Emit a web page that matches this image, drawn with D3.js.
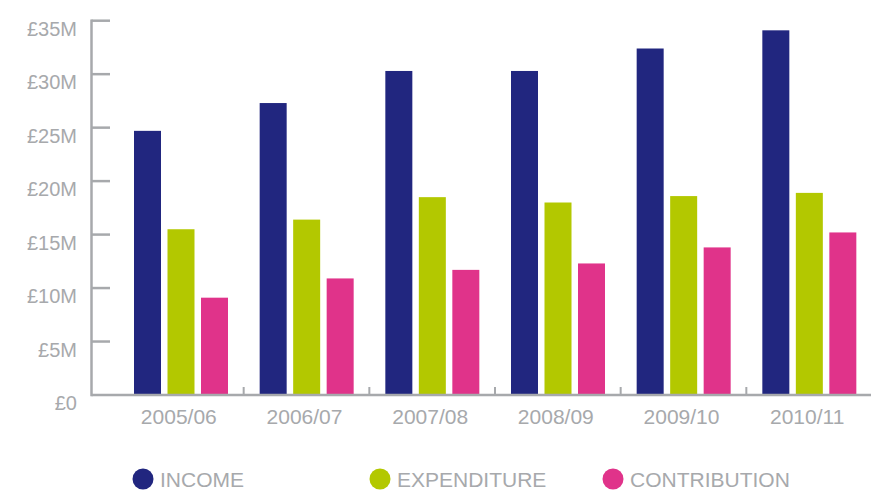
<!DOCTYPE html>
<html>
<head>
<meta charset="utf-8">
<script src="https://cdn.jsdelivr.net/npm/d3@7"></script>
<style>
  html, body { margin: 0; padding: 0; background: #fff; }
  svg { display: block; font-family: 'Liberation Sans', Arial, sans-serif; }
</style>
</head>
<body>
<div id="chart"></div>
<script>
/* values in £ millions */
const years = ["2005/06", "2006/07", "2007/08", "2008/09", "2009/10", "2010/11"];
const seriesNames = ["INCOME", "EXPENDITURE", "CONTRIBUTION"];
const income = [24.7, 27.3, 30.3, 30.3, 32.4, 34.1];
const expenditure = [15.5, 16.4, 18.5, 18.0, 18.6, 18.9];
const contribution = [9.1, 10.9, 11.7, 12.3, 13.8, 15.2];
const yTicks = [0, 5, 10, 15, 20, 25, 30, 35];

const colors = ["#21267f", "#b3c800", "#e0338a"];
const grey = "#a7a9ac";

const W = 871, H = 491;
const svg = d3.select("#chart").append("svg")
  .attr("width", W).attr("height", H);

const values = [income, expenditure, contribution];

const x = d3.scaleBand().domain(years).range([118, 872]).padding(0);
const xs = d3.scaleBand().domain(seriesNames).range([16, 110])
  .paddingInner(0.194).paddingOuter(0);
const y = d3.scaleLinear().domain([0, 35]).range([395, 20.7]);

/* ── Bars ── */
const groups = svg.selectAll("g.year")
  .data(years)
  .enter().append("g")
  .attr("class", "year")
  .attr("transform", d => `translate(${x(d)},0)`);

groups.selectAll("rect")
  .data((d, i) => seriesNames.map((s, j) => ({ s, v: values[j][i], j })))
  .enter().append("rect")
  .attr("x", d => xs(d.s))
  .attr("width", xs.bandwidth())
  .attr("y", d => y(d.v))
  .attr("height", d => y(0) - y(d.v))
  .attr("fill", d => colors[d.j]);

/* ── Y axis ── */
const yAxis = svg.append("g");
yAxis.append("line")
  .attr("x1", 91.5).attr("x2", 91.5)
  .attr("y1", y(35) - 1.2).attr("y2", y(0) + 1.2)
  .attr("stroke", grey).attr("stroke-width", 2.5);
yAxis.selectAll("line.tick")
  .data(yTicks.filter(d => d > 0))
  .enter().append("line")
  .attr("class", "tick")
  .attr("x1", 91.5).attr("x2", 110)
  .attr("y1", d => y(d)).attr("y2", d => y(d))
  .attr("stroke", grey).attr("stroke-width", 2.5);
yAxis.selectAll("text")
  .data(yTicks)
  .enter().append("text")
  .attr("x", 77)
  .attr("y", d => y(d) + 15)
  .attr("text-anchor", "end")
  .attr("fill", grey)
  .style("font-size", "20px")
  .text(d => d === 0 ? "£0" : `£${d}M`);

/* ── X axis ── */
const xAxis = svg.append("g");
xAxis.append("line")
  .attr("x1", 91.5).attr("x2", W)
  .attr("y1", y(0)).attr("y2", y(0))
  .attr("stroke", grey).attr("stroke-width", 2.5);
xAxis.selectAll("line.tick")
  .data(years)
  .enter().append("line")
  .attr("class", "tick")
  .attr("x1", d => x(d) + x.bandwidth()).attr("x2", d => x(d) + x.bandwidth())
  .attr("y1", y(0)).attr("y2", y(0) - 8)
  .attr("stroke", grey).attr("stroke-width", 2);
xAxis.selectAll("text")
  .data(years)
  .enter().append("text")
  .attr("x", d => x(d) + x.bandwidth() / 2 - 2)
  .attr("y", 424)
  .attr("text-anchor", "middle")
  .attr("fill", grey)
  .style("font-size", "21px")
  .text(d => d);

/* ── Legend ── */
const legendX = [143, 380, 613];
const legend = svg.selectAll("g.legend")
  .data(seriesNames)
  .enter().append("g")
  .attr("class", "legend")
  .attr("transform", (d, i) => `translate(${legendX[i]},479)`);
legend.append("circle")
  .attr("r", 10.5)
  .attr("fill", (d, i) => colors[i]);
legend.append("text")
  .attr("x", 17)
  .attr("y", 7.5)
  .attr("fill", grey)
  .style("font-size", "21px")
  .text(d => d);
</script>
</body>
</html>
